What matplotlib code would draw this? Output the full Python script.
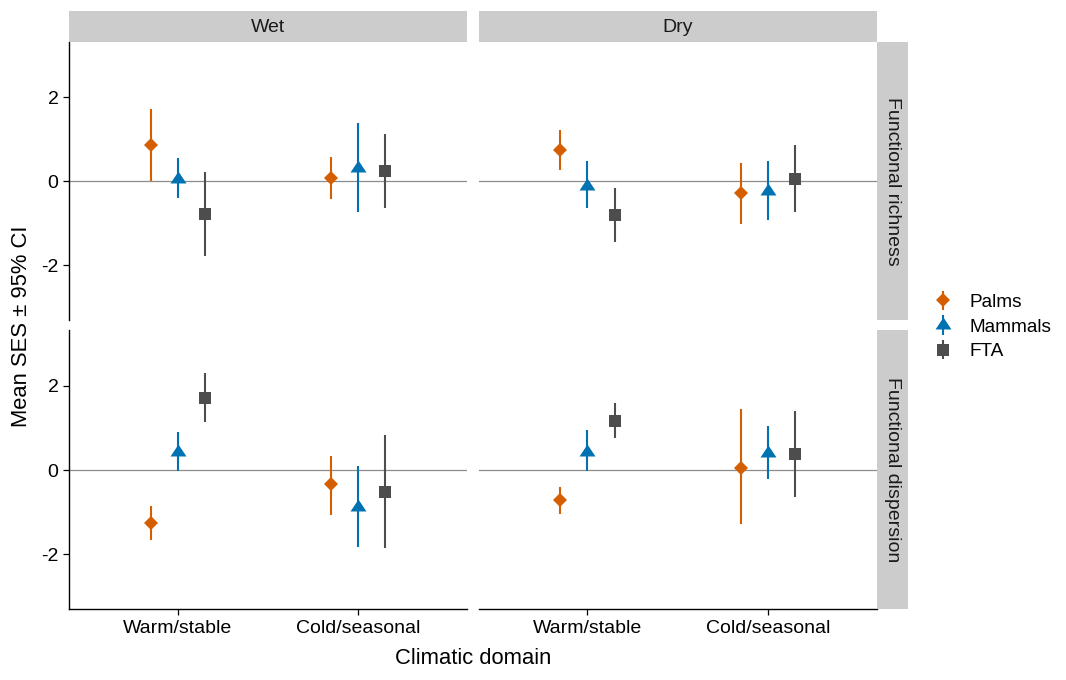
import matplotlib
matplotlib.use("Agg")
import matplotlib.pyplot as plt
from matplotlib.patches import Rectangle
import numpy as np

plt.rcParams['font.family'] = ['Liberation Sans', 'DejaVu Sans']

# ---------------- data ----------------
domains = ["Warm/stable", "Cold/seasonal"]
taxa = ["Palms", "Mammals", "FTA"]
climates = ["Wet", "Dry"]
metrics = ["Functional richness", "Functional dispersion"]

# rows: taxa (Palms, Mammals, FTA); columns: domains (Warm/stable, Cold/seasonal)
wet_rich_mean = [[0.87, 0.09], [0.05, 0.31], [-0.78, 0.24]]
wet_rich_lo   = [[0.00, -0.42], [-0.39, -0.72], [-1.78, -0.63]]
wet_rich_hi   = [[1.72, 0.58], [0.55, 1.39], [0.22, 1.13]]

dry_rich_mean = [[0.75, -0.28], [-0.10, -0.24], [-0.80, 0.06]]
dry_rich_lo   = [[0.28, -1.01], [-0.63, -0.91], [-1.44, -0.73]]
dry_rich_hi   = [[1.22, 0.44], [0.48, 0.48], [-0.16, 0.86]]

wet_disp_mean = [[-1.25, -0.34], [0.43, -0.88], [1.70, -0.51]]
wet_disp_lo   = [[-1.66, -1.06], [-0.03, -1.82], [1.13, -1.84]]
wet_disp_hi   = [[-0.85, 0.34], [0.91, 0.10], [2.30, 0.84]]

dry_disp_mean = [[-0.72, 0.05], [0.43, 0.40], [1.17, 0.37]]
dry_disp_lo   = [[-1.03, -1.29], [-0.03, -0.20], [0.75, -0.65]]
dry_disp_hi   = [[-0.40, 1.44], [0.94, 1.05], [1.60, 1.39]]

panels = {
    (0, 0): (wet_rich_mean, wet_rich_lo, wet_rich_hi),
    (0, 1): (dry_rich_mean, dry_rich_lo, dry_rich_hi),
    (1, 0): (wet_disp_mean, wet_disp_lo, wet_disp_hi),
    (1, 1): (dry_disp_mean, dry_disp_lo, dry_disp_hi),
}

# ---------------- style ----------------
colors = ["#D55E00", "#0072B2", "#4D4D4D"]
tri = [(-1, -0.5), (1, -0.5), (0, 1.0)]
markers = ["D", tri, "s"]
msizes = [7.6, 11.5, 9.0]
dodge = [-0.15, 0.0, 0.15]
strip_col = "#CCCCCC"

W, H = 1066, 680
fig = plt.figure(figsize=(W / 100, H / 100), dpi=100)

xcols = [(69.3, 466.7), (479.0, 876.7)]
yrows = [(42.0, 320.0), (330.0, 609.3)]

def fx(px):
    return px / W

def fy(py):
    return 1 - py / H

handles = []
for (r, c), (mean, lo, hi) in panels.items():
    x0, x1 = xcols[c]
    y0, y1 = yrows[r]
    ax = fig.add_axes([fx(x0), fy(y1), fx(x1) - fx(x0), fy(y0) - fy(y1)])
    ax.axhline(0, color="#8C8C8C", lw=0.9, zorder=1)
    base = np.arange(1, len(domains) + 1)
    for k, t in enumerate(taxa):
        m = np.array(mean[k])
        l = np.array(lo[k])
        h = np.array(hi[k])
        ax.errorbar(base + dodge[k], m, yerr=[m - l, h - m], fmt="none",
                    ecolor=colors[k], elinewidth=1.5, capsize=0, zorder=2)
        ax.plot(base + dodge[k], m, linestyle="none", marker=markers[k],
                ms=msizes[k], color=colors[k], mec=colors[k], mew=0, zorder=3)
        if r == 0 and c == 0:
            h_eb = ax.errorbar([np.nan], [np.nan], yerr=[[0.1]], fmt="o",
                               color=colors[k], ecolor=colors[k], elinewidth=1.5, capsize=0,
                               ms=msizes[k], mew=0, label=t)
            h_eb.lines[0].set_marker(markers[k])
            handles.append(h_eb)
    ax.set_xlim(0.4, 2.6)
    ax.set_ylim(-3.3, 3.32)
    for s in ax.spines.values():
        s.set_visible(False)
    ax.set_yticks([-2, 0, 2])
    ax.set_xticks(base)
    ax.tick_params(axis="both", length=4.3, width=0.9, color="#000000",
                   labelsize=14, labelcolor="#000000", pad=3.5)
    if c == 0:
        ax.spines["left"].set_visible(True)
        ax.spines["left"].set_linewidth(1.0)
        ax.set_yticklabels([str(v) for v in [-2, 0, 2]])
    else:
        ax.tick_params(axis="y", left=False, labelleft=False)
    if r == 1:
        ax.spines["bottom"].set_visible(True)
        ax.spines["bottom"].set_linewidth(1.0)
        ax.set_xticklabels(domains)
    else:
        ax.tick_params(axis="x", bottom=False, labelbottom=False)
    ax.set_facecolor("white")

# top strips
for c, name in enumerate(climates):
    x0, x1 = xcols[c]
    fig.patches.append(Rectangle((fx(x0), fy(42)), fx(x1) - fx(x0), fy(11) - fy(42),
                                 transform=fig.transFigure, facecolor=strip_col,
                                 edgecolor="none", zorder=0))
    fig.text(fx((x0 + x1) / 2), fy(27), name, ha="center", va="center",
             fontsize=14, color="#1A1A1A")

# right strips
for r, name in enumerate(metrics):
    y0, y1 = yrows[r]
    fig.patches.append(Rectangle((fx(877), fy(y1)), fx(908) - fx(877), fy(y0) - fy(y1),
                                 transform=fig.transFigure, facecolor=strip_col,
                                 edgecolor="none", zorder=0))
    fig.text(fx(892.5), fy((y0 + y1) / 2), name, ha="center", va="center",
             rotation=270, fontsize=14, color="#1A1A1A")

fig.text(fx(473), fy(658), "Climatic domain", ha="center", va="center", fontsize=15.8)
fig.text(fx(22), fy(326), "Mean SES ± 95% CI", ha="center", va="center",
         rotation=90, fontsize=15.8)

leg = fig.legend(handles=handles, labels=taxa, loc="center left",
                 bbox_to_anchor=(fx(933), fy(327)), frameon=False, fontsize=13.7,
                 handlelength=1.0, handletextpad=0.9, labelspacing=0.38,
                 borderaxespad=0, borderpad=0)

fig.savefig("out.png", dpi=100)
